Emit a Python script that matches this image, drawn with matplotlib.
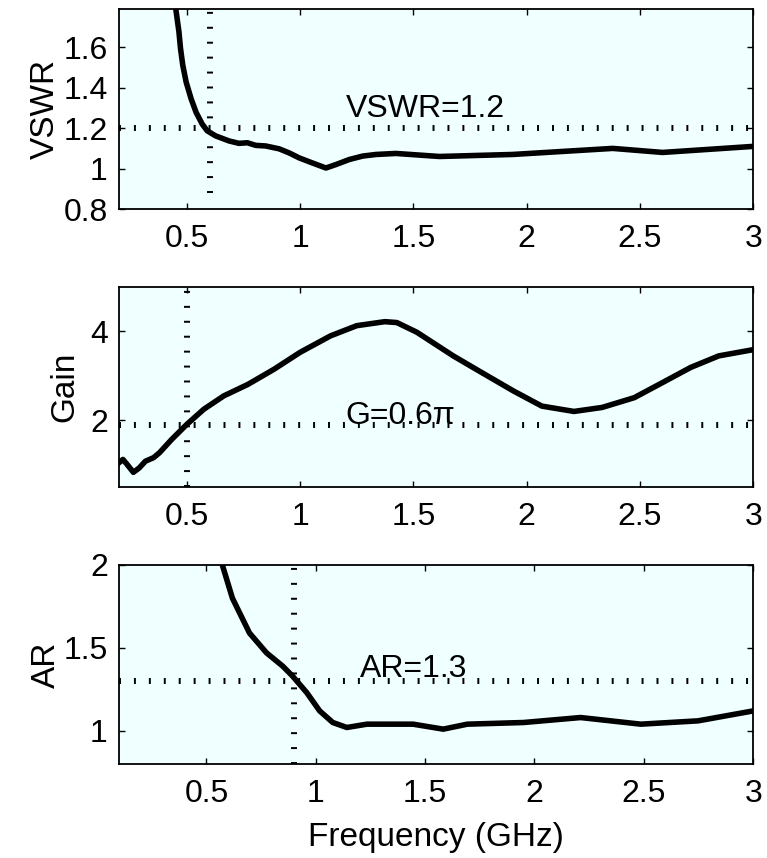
import numpy as np
import matplotlib.pyplot as plt

plt.rcParams['font.family'] = ['Liberation Sans', 'DejaVu Sans']
plt.rcParams['font.size'] = 23

# VSWR
f_vswr = [0.44, 0.450, 0.465, 0.472, 0.482, 0.497, 0.519, 0.541, 0.568, 0.590, 0.627,
          0.686, 0.730, 0.767, 0.804, 0.848, 0.907, 0.951, 0.996, 1.054, 1.114,
          1.158, 1.217, 1.276, 1.335, 1.423, 1.615, 1.938, 2.38, 2.60, 3.0]
vswr = [1.88, 1.80, 1.678, 1.595, 1.512, 1.428, 1.345, 1.278, 1.22, 1.187, 1.162,
        1.137, 1.125, 1.128, 1.115, 1.112, 1.098, 1.078, 1.053, 1.028, 1.003,
        1.02, 1.045, 1.062, 1.07, 1.075, 1.06, 1.07, 1.10, 1.08, 1.11]

# Gain
f_gain = [0.2, 0.218, 0.236, 0.264, 0.29, 0.317, 0.353, 0.379, 0.433, 0.5, 0.575,
          0.663, 0.77, 0.885, 1.0, 1.134, 1.25, 1.374, 1.427, 1.516, 1.676,
          1.8, 1.942, 2.067, 2.209, 2.333, 2.475, 2.6, 2.724, 2.848, 3.0]
gain = [1.045, 1.12, 1.01, 0.83, 0.93, 1.08, 1.16, 1.27, 1.57, 1.91, 2.25,
        2.55, 2.81, 3.15, 3.53, 3.90, 4.13, 4.22, 4.20, 3.98, 3.45,
        3.08, 2.66, 2.32, 2.20, 2.29, 2.51, 2.85, 3.19, 3.45, 3.59]

# Axial ratio
f_ar = [0.56, 0.573, 0.619, 0.697, 0.775, 0.849, 0.894, 0.959, 1.018, 1.078, 1.142,
        1.234, 1.372, 1.445, 1.583, 1.693, 1.95, 2.211, 2.486, 2.748, 3.0]
ar = [2.06, 2.0, 1.80, 1.59, 1.47, 1.39, 1.33, 1.23, 1.12, 1.05, 1.02,
      1.04, 1.04, 1.04, 1.01, 1.04, 1.05, 1.08, 1.04, 1.06, 1.12]

# reference levels and marker frequencies
vswr_ref = 1.2
gain_ref = 0.6 * np.pi
ar_ref = 1.3
vswr_fmark = 0.6
gain_fmark = 0.5
ar_fmark = 0.9

xt = [0.5, 1, 1.5, 2, 2.5, 3]
xt_lbl = ['0.5', '1', '1.5', '2', '2.5', '3']

bg = '#F0FFFF'
dot = dict(color='k', linewidth=4.3, linestyle=(0, (0.33, 2.17)))

fig = plt.figure(figsize=(7.67, 8.58), dpi=100)
ax1 = fig.add_axes([0.155, 0.7564, 0.827, 0.2331])
ax2 = fig.add_axes([0.155, 0.4324, 0.827, 0.2331])
ax3 = fig.add_axes([0.155, 0.1096, 0.827, 0.2319])

for ax in (ax1, ax2, ax3):
    ax.set_facecolor(bg)
    ax.tick_params(direction='in', length=4.3, width=1, top=True, right=True,
                   labelsize=23)
    ax.tick_params(axis='x', pad=11)
    ax.tick_params(axis='y', pad=8)
    for s in ax.spines.values():
        s.set_linewidth(1.3)
    ax.set_xticks(xt)
    ax.set_xticklabels(xt_lbl)

# panel 1
ax1.plot(f_vswr, vswr, color='k', linewidth=4, solid_joinstyle='round')
ax1.axhline(vswr_ref, **dot)
ax1.vlines(vswr_fmark, 0.88, 1.79, **dot)
ax1.text(1.2, 1.255, 'VSWR=1.2', fontsize=23)
ax1.set_xlim(0.2, 3)
ax1.set_ylim(0.8, 1.79)
ax1.set_yticks([0.8, 1, 1.2, 1.4, 1.6])
ax1.set_yticklabels(['0.8', '1', '1.2', '1.4', '1.6'])
ax1.set_ylabel('VSWR', fontsize=24, labelpad=1.5)

# panel 2
ax2.plot(f_gain, gain, color='k', linewidth=4, solid_joinstyle='round')
ax2.axhline(gain_ref, **dot)
ax2.axvline(gain_fmark, **dot)
ax2.text(1.2, 1.91, 'G=0.6π', fontsize=23)
ax2.set_xlim(0.2, 3)
ax2.set_ylim(0.5, 5)
ax2.set_yticks([2, 4])
ax2.set_ylabel('Gain', fontsize=24, labelpad=6.5)

# panel 3
ax3.plot(f_ar, ar, color='k', linewidth=4, solid_joinstyle='round')
ax3.axhline(ar_ref, **dot)
ax3.axvline(ar_fmark, **dot)
ax3.text(1.2, 1.327, 'AR=1.3', fontsize=23)
ax3.set_xlim(0.1, 3)
ax3.set_ylim(0.8, 2)
ax3.set_yticks([1, 1.5, 2])
ax3.set_yticklabels(['1', '1.5', '2'])
ax3.set_ylabel('AR', fontsize=24, labelpad=1.5)
ax3.set_xlabel('Frequency (GHz)', fontsize=24, labelpad=9)

fig.savefig('out.png', dpi=100)
